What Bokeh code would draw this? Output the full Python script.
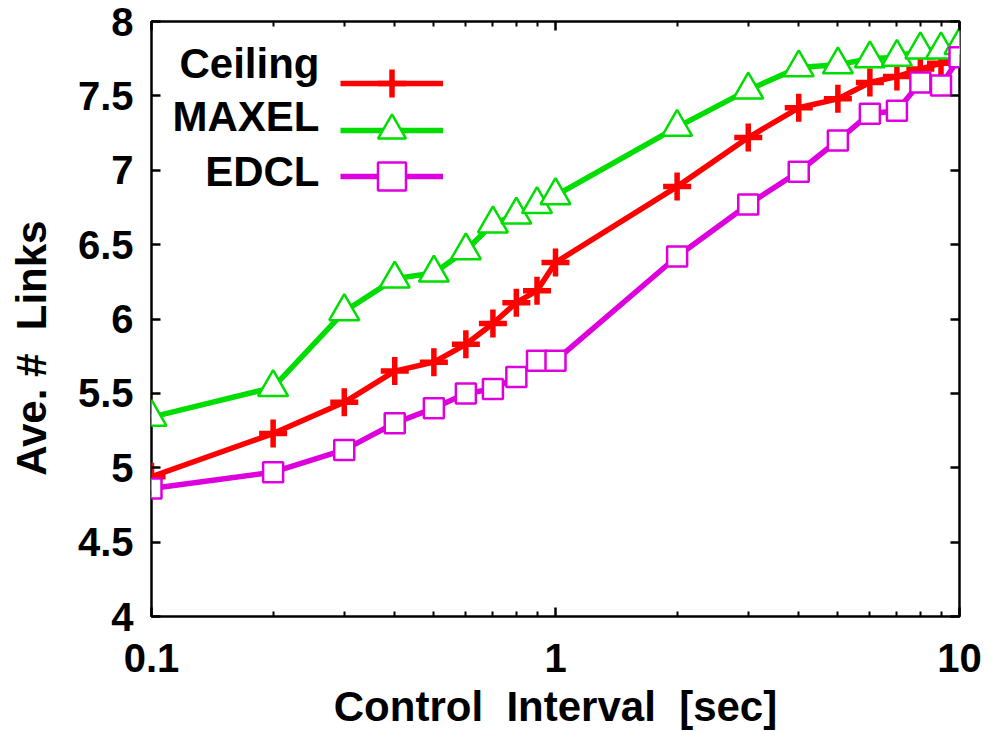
from bokeh.plotting import figure
from bokeh.models import (Range1d, FixedTicker, LogAxis, LinearAxis, Legend, LegendItem,
                          Label, CustomJSTickFormatter, ColumnDataSource)
from bokeh.embed import file_html
from bokeh.resources import INLINE

# ---- data ----
intervals = [0.1, 0.2, 0.3, 0.4, 0.5, 0.6, 0.7, 0.8, 0.9, 1, 2, 3, 4, 5, 6, 7, 8, 9, 10]
ceiling = [4.94, 5.23, 5.44, 5.65, 5.71, 5.83, 5.97, 6.11, 6.19, 6.38,
           6.89, 7.22, 7.42, 7.48, 7.59, 7.63, 7.68, 7.72, 7.82]
maxel = [5.34, 5.54, 6.05, 6.27, 6.31, 6.46, 6.64, 6.70, 6.77, 6.83,
         7.29, 7.54, 7.69, 7.71, 7.75, 7.76, 7.81, 7.81, 7.84]
edcl = [4.86, 4.97, 5.12, 5.30, 5.40, 5.50, 5.53, 5.61, 5.72, 5.72,
        6.42, 6.77, 6.99, 7.20, 7.38, 7.40, 7.59, 7.57, 7.76]
series_names = ["Ceiling", "MAXEL", "EDCL"]

x_ticks = [0.1, 1, 10]
x_tick_labels = ["0.1", "1", "10"]
x_minor_ticks = [0.2, 0.3, 0.4, 0.5, 0.6, 0.7, 0.8, 0.9, 2, 3, 4, 5, 6, 7, 8, 9]
y_ticks = [4, 4.5, 5, 5.5, 6, 6.5, 7, 7.5, 8]
y_tick_labels = ["4", "4.5", "5", "5.5", "6", "6.5", "7", "7.5", "8"]

FONT = "Liberation Sans"
RED, GREEN, MAGENTA = "#ff0000", "#00dd00", "#dd00dd"
NB = "\u00a0"

p = figure(width=990, height=732, x_axis_type="log",
           x_range=Range1d(0.1, 10), y_range=Range1d(4, 8),
           output_backend="svg", toolbar_location=None,
           min_border_left=151, min_border_right=31, min_border_top=21, min_border_bottom=115)
p.background_fill_color = "white"
p.border_fill_color = "white"
p.outline_line_color = "black"
p.outline_line_width = 2.5
p.xgrid.visible = False
p.ygrid.visible = False

xt = FixedTicker(ticks=x_ticks, minor_ticks=x_minor_ticks)
yt = FixedTicker(ticks=y_ticks, minor_ticks=[])

def style_axis(ax):
    ax.axis_line_color = None
    ax.major_tick_in = 9
    ax.major_tick_out = 0
    ax.minor_tick_in = 5
    ax.minor_tick_out = 0
    ax.major_tick_line_width = 2.5
    ax.minor_tick_line_width = 2
    ax.major_tick_line_color = "black"
    ax.minor_tick_line_color = "black"
    ax.major_label_text_font = FONT
    ax.major_label_text_font_style = "bold"
    ax.major_label_text_font_size = "40px"
    ax.major_label_text_color = "black"
    ax.axis_label_text_font = FONT
    ax.axis_label_text_font_style = "bold"
    ax.axis_label_text_font_size = "42px"
    ax.axis_label_text_color = "black"

xa = p.xaxis[0]
xa.ticker = xt
xa.major_label_overrides = dict(zip(x_ticks, x_tick_labels))
style_axis(xa)
xa.major_label_standoff = 27
xa.axis_label = "Control" + NB + " Interval" + NB + " [sec]"
xa.axis_label_standoff = 8

ya = p.yaxis[0]
ya.ticker = yt
ya.major_label_overrides = dict(zip(y_ticks, y_tick_labels))
style_axis(ya)
ya.major_label_standoff = 18
ya.axis_label = "Ave. #" + NB + " Links" + NB * 5
ya.axis_label_standoff = 20

blank = CustomJSTickFormatter(code="return ''")
top = LogAxis(ticker=xt, formatter=blank)
style_axis(top)
top.major_label_text_font_size = "1px"
top.major_label_standoff = 0
right = LinearAxis(ticker=yt, formatter=blank)
style_axis(right)
right.major_label_text_font_size = "1px"
right.major_label_standoff = 0
p.add_layout(top, "above")
p.add_layout(right, "right")

src = ColumnDataSource(dict(x=intervals, ceiling=ceiling, maxel=maxel, edcl=edcl))

l1 = p.line("x", "ceiling", source=src, line_color=RED, line_width=5.5)
m1 = p.scatter("x", "ceiling", source=src, marker="cross", size=28,
               line_color=RED, line_width=5.5)
l2 = p.line("x", "maxel", source=src, line_color=GREEN, line_width=5.5)
m2 = p.scatter("x", "maxel", source=src, marker="triangle", size=30,
               line_color=GREEN, line_width=2.5, fill_color="white")
l3 = p.line("x", "edcl", source=src, line_color=MAGENTA, line_width=5.5)
m3 = p.scatter("x", "edcl", source=src, marker="square", size=20,
               line_color=MAGENTA, line_width=2.5, fill_color="white")

# one legend per row (key samples to the right of right-aligned names)
for rends, ybottom in zip([[l1, m1], [l2, m2], [l3, m3]], [498, 451, 405]):
    lg = Legend(items=[LegendItem(label="", renderers=rends)],
                location=(189, ybottom), padding=0, margin=0, spacing=0,
                glyph_width=103, glyph_height=70, label_height=0, label_width=0,
                label_standoff=0, border_line_color=None, background_fill_alpha=0,
                label_text_font_size="1px")
    p.add_layout(lg, "center")

for name, ypos in zip(series_names, [553, 500, 445]):
    p.add_layout(Label(x=168, y=ypos, x_units="screen", y_units="screen", text=name,
                       text_align="right", text_baseline="middle",
                       text_font=FONT, text_font_style="bold", text_font_size="42px",
                       text_color="black"))

open("out.html", "w").write(file_html(p, INLINE))
